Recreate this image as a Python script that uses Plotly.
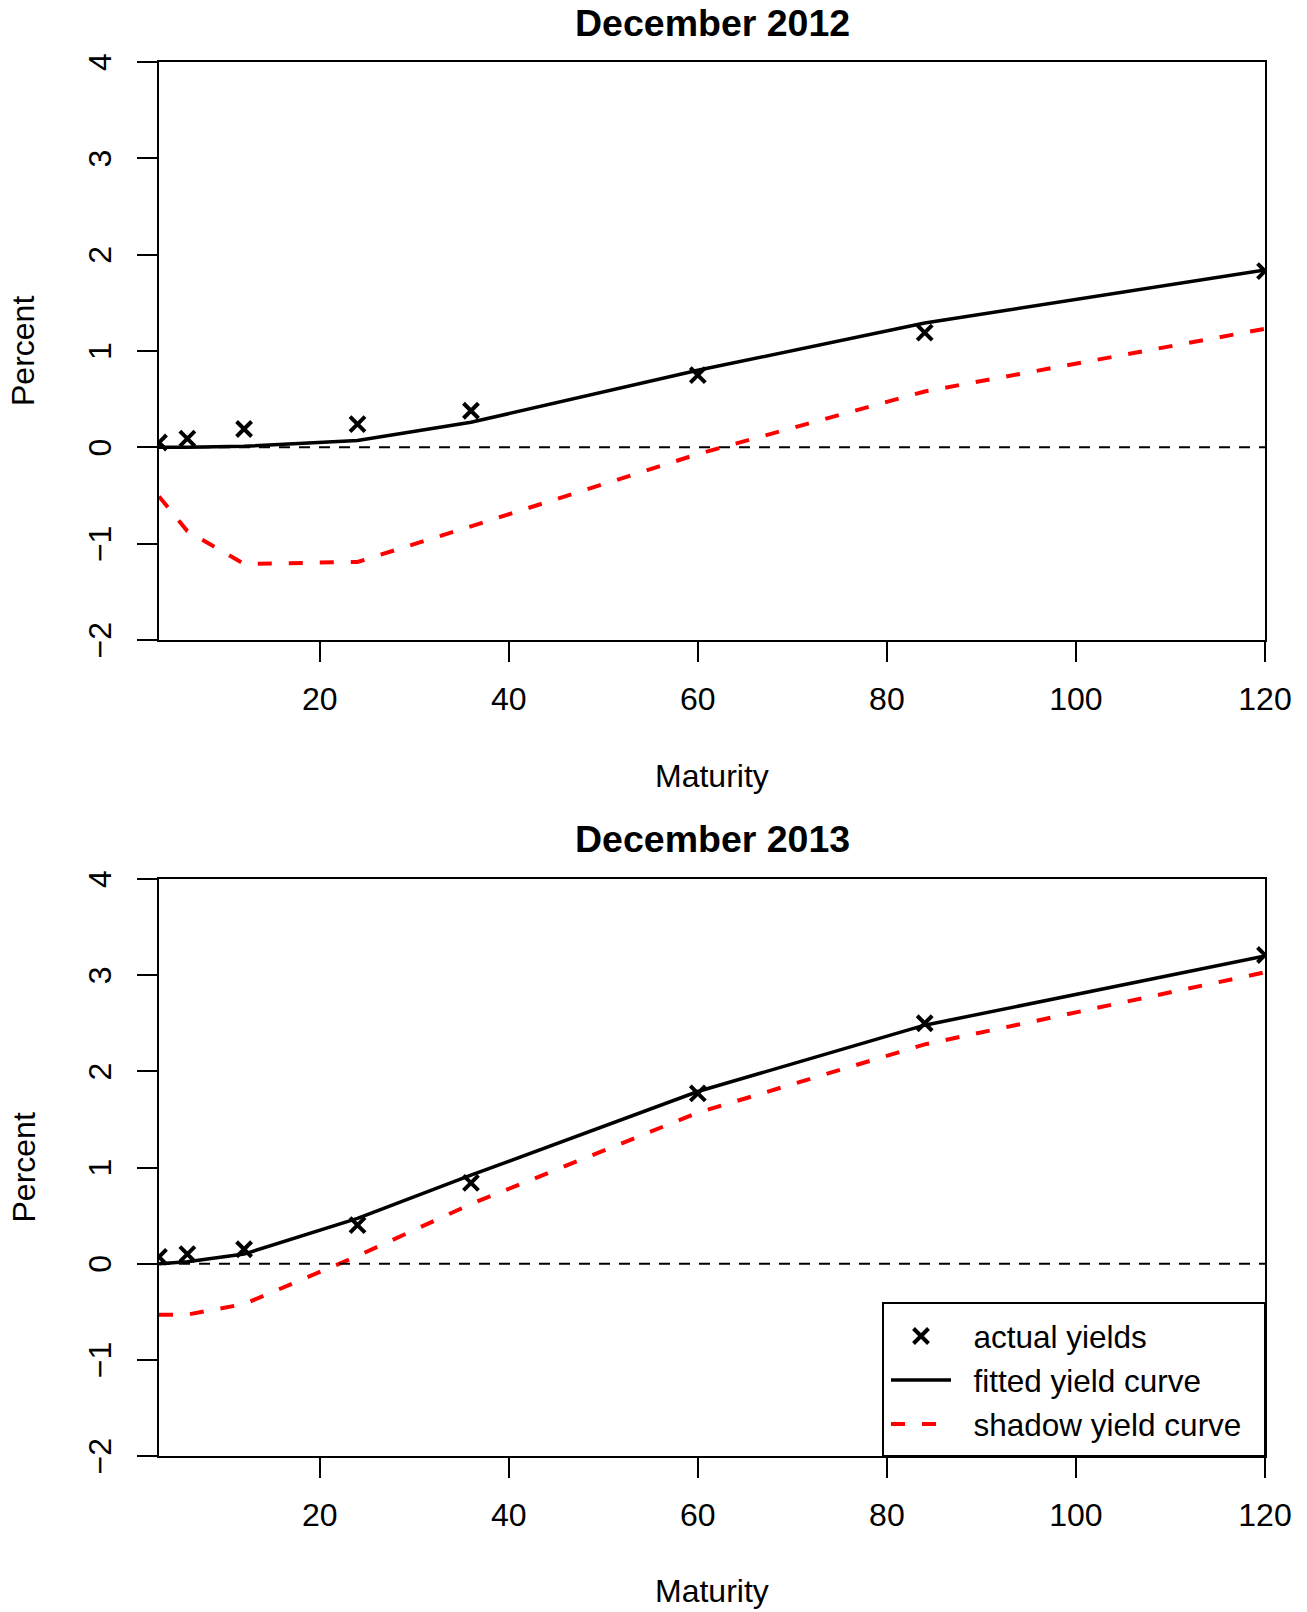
import plotly.graph_objects as go
from plotly.subplots import make_subplots

# ---- data ----
maturity = [3, 6, 12, 24, 36, 60, 84, 120]

actual_2012 = [0.05, 0.09, 0.19, 0.24, 0.38, 0.75, 1.19, 1.83]
fitted_2012 = [0.00, 0.00, 0.01, 0.07, 0.26, 0.80, 1.29, 1.84]
shadow_2012 = [-0.51, -0.87, -1.21, -1.19, -0.82, -0.07, 0.58, 1.23]

actual_2013 = [0.07, 0.10, 0.15, 0.40, 0.84, 1.77, 2.50, 3.21]
fitted_2013 = [0.00, 0.02, 0.10, 0.47, 0.92, 1.79, 2.48, 3.20]
shadow_2013 = [-0.53, -0.53, -0.42, 0.08, 0.62, 1.57, 2.28, 3.03]

panel_titles = ["December 2012", "December 2013"]
x_ticks = [20, 40, 60, 80, 100, 120]
y_ticks = [-2, -1, 0, 1, 2, 3, 4]
legend_labels = ["actual yields", "fitted yield curve", "shadow yield curve"]

FONT = "Liberation Sans, Arial, sans-serif"
W, H = 1307, 1612
ML, MR, MT, MB = 159, 42, 62, 156
PH = H - MT - MB
PW = W - ML - MR


def py(px_from_top):
    return (H - MB - px_from_top) / PH


def px(px_from_left):
    return (px_from_left - ML) / PW


top_dom = [py(640), 1.0]
bot_dom = [0.0, py(879)]

fig = make_subplots(rows=2, cols=1)

PAD = "\u00a0\u00a0"
panels = [
    (actual_2012, fitted_2012, shadow_2012),
    (actual_2013, fitted_2013, shadow_2013),
]
for i, (act, fit, sha) in enumerate(panels, start=1):
    show = (i == 2)
    fig.add_trace(go.Scatter(
        x=maturity, y=sha, mode="lines", name=PAD + legend_labels[2],
        line=dict(color="#FF0000", width=4, dash="14px,17px"),
        showlegend=show, legendrank=3), row=i, col=1)
    fig.add_trace(go.Scatter(
        x=maturity, y=fit, mode="lines", name=PAD + legend_labels[1],
        line=dict(color="black", width=3.5),
        showlegend=show, legendrank=2), row=i, col=1)
    fig.add_trace(go.Scatter(
        x=maturity, y=act, mode="markers", name=PAD + legend_labels[0],
        marker=dict(symbol="x-thin", size=15, color="black",
                    line=dict(color="black", width=4)),
        showlegend=show, legendrank=1), row=i, col=1)
    fig.add_hline(y=0, line=dict(color="black", width=2, dash="11px,9px"),
                  row=i, col=1)

axis_common = dict(
    showline=True, linecolor="black", linewidth=1.5, mirror=True,
    ticks="outside", ticklen=20, tickwidth=1.5, tickcolor="black",
    showgrid=False, zeroline=False,
    tickfont=dict(family=FONT, size=32, color="black"),
)
for i, dom in ((1, top_dom), (2, bot_dom)):
    fig.update_xaxes(range=[3, 120], tickvals=x_ticks, ticklabelstandoff=10,
                     **axis_common, row=i, col=1)
    fig.update_yaxes(range=[-2, 4], tickvals=y_ticks, tickangle=-90,
                     ticklabelstandoff=13, ticklabelshift=5, domain=dom,
                     **axis_common, row=i, col=1)

annotations = []
for title, ytitle, ymat, yper in (
    (panel_titles[0], 22.6, 776, 351),
    (panel_titles[1], 839, 1591, 1167.5),
):
    annotations.append(dict(text="<b>%s</b>" % title, x=0.5, y=py(ytitle),
                            xref="paper", yref="paper", showarrow=False,
                            xanchor="center", yanchor="middle",
                            font=dict(family=FONT, size=37.5, color="black")))
    annotations.append(dict(text="Maturity", x=0.5, y=py(ymat),
                            xref="paper", yref="paper", showarrow=False,
                            xanchor="center", yanchor="middle",
                            font=dict(family=FONT, size=32, color="black")))
    annotations.append(dict(text="Percent", x=px(23), y=py(yper),
                            xref="paper", yref="paper", showarrow=False,
                            textangle=-90, xanchor="center", yanchor="middle",
                            font=dict(family=FONT, size=32, color="black")))

# legend frame (bottom-right of the lower panel)
shapes = list(fig.layout.shapes) + [dict(
    type="rect", xref="paper", yref="paper",
    x0=px(883), x1=1.0, y0=0.0, y1=py(1303),
    line=dict(color="black", width=2), fillcolor="white", layer="above",
)]

fig.update_layout(
    width=W, height=H,
    margin=dict(l=ML, r=MR, t=MT, b=MB, pad=0),
    paper_bgcolor="white", plot_bgcolor="white",
    annotations=list(fig.layout.annotations) + annotations,
    shapes=shapes,
    legend=dict(x=px(886), y=py(1380), xanchor="left", yanchor="middle",
                bgcolor="rgba(0,0,0,0)", borderwidth=0,
                font=dict(family=FONT, size=31.5, color="black"),
                itemwidth=60, tracegroupgap=0, traceorder="normal"),
    font=dict(family=FONT, color="black"),
)

fig.write_html("out.html", config={"displayModeBar": False},
               post_script="document.body.style.margin='0px';")
